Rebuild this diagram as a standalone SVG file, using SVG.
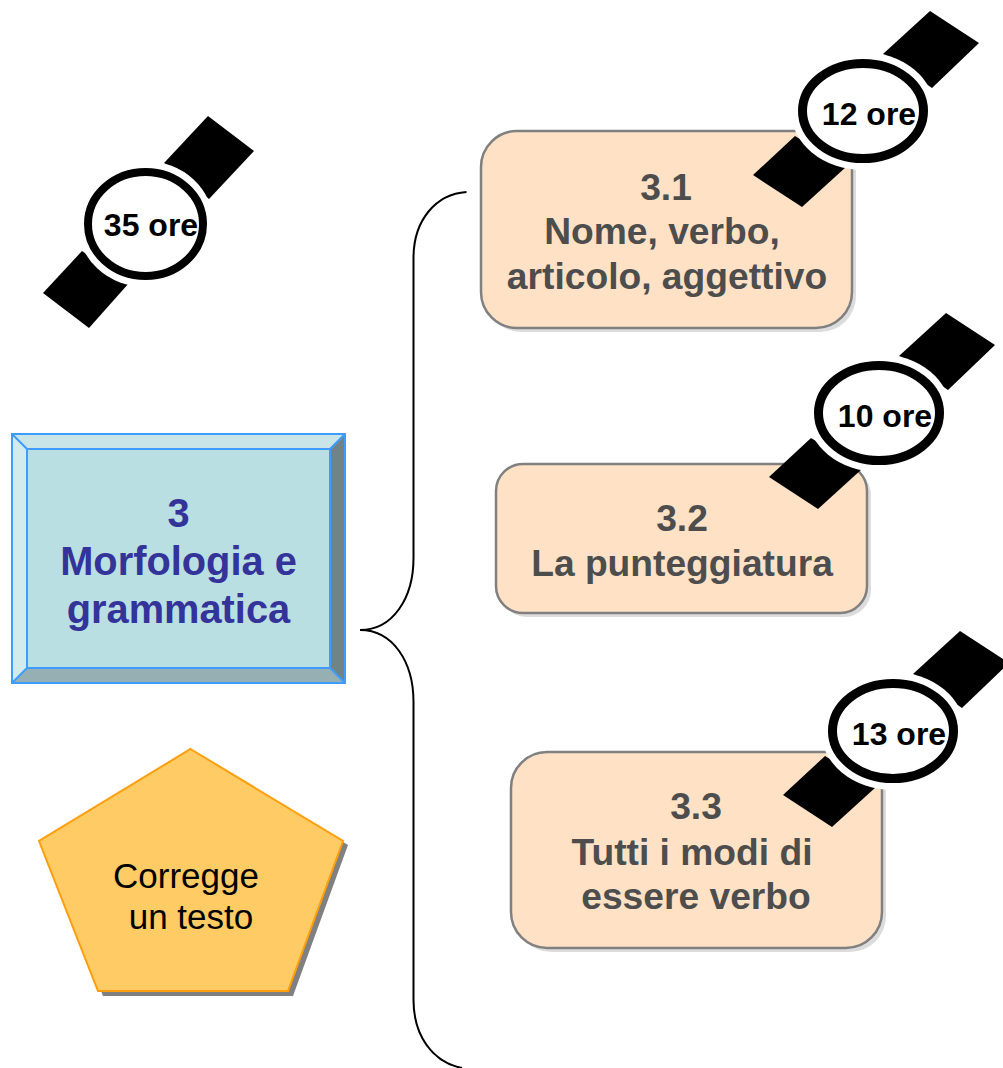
<svg xmlns="http://www.w3.org/2000/svg" width="1003" height="1068" viewBox="0 0 1003 1068">
<style>
text{font-family:"Liberation Sans",Arial,sans-serif;text-anchor:middle}
.t{font-size:37.200px;font-weight:bold;fill:#4d4d4d}
.m{font-size:39.800px;font-weight:bold;fill:#333399}
.c{font-size:35px;fill:#000}
.o{font-size:32px;font-weight:bold;fill:#000}
.box{fill:#ffe1c5;stroke:#808080;stroke-width:2.500}
.sh{fill:#dcdcdc}
.dial{fill:#fff;stroke:#000}
.halo{fill:#fff}
</style>
<defs>
<g id="watch">
<polygon points="930,11 979,43 932,88 883,54"/>
<polygon points="795,136 846,167 802,207 753,175"/>
<ellipse class="halo" cx="863" cy="111" rx="72" ry="59"/>
<ellipse class="dial" cx="863" cy="111" rx="60.500" ry="47.500" stroke-width="9"/>
</g>
</defs>
<g id="connectors" fill="none" stroke="#000" stroke-width="2">
<path d="M466.500,192 C436,194 413.500,220 413.500,258 V558 C413.500,598 393,630 360,630 C393,630 413.500,662 413.500,702 V1000 C413.500,1035 432,1062 462,1068"/>
</g>
<g id="node-watch-35">
<polygon points="208,116 254,151 209,199 164,163"/>
<polygon points="82,251 129,283 89,328 43,293"/>
<ellipse class="halo" cx="145.500" cy="224" rx="68" ry="63"/>
<ellipse class="dial" cx="145.500" cy="224" rx="57.500" ry="52" stroke-width="8"/>
<text class="o" x="151" y="236">35 ore</text>
</g>
<g id="node-3">
<rect x="12" y="434" width="333" height="249" fill="#b9dfe3"/>
<polygon points="12,434 345,434 330,449 27,449" fill="#c9e5e8"/>
<polygon points="12,434 27,449 27,668 12,683" fill="#d4ebee"/>
<polygon points="345,434 345,683 330,668 330,449" fill="#708488"/>
<polygon points="12,683 27,668 330,668 345,683" fill="#95afb3"/>
<g fill="none" stroke="#3f9cff" stroke-width="2">
<rect x="12" y="434" width="333" height="249"/>
<rect x="27" y="449" width="303" height="219"/>
<path d="M12,434 L27,449 M345,434 L330,449 M12,683 L27,668 M345,683 L330,668"/>
</g>
<text class="m" x="178.500" y="527">3</text>
<text class="m" x="178.500" y="575">Morfologia e</text>
<text class="m" x="178.500" y="623">grammatica</text>
</g>
<g id="node-pentagon">
<polygon points="195,753 348,845 293,996 103,996 43,845" fill="#808080"/>
<polygon points="190.500,749 343,841 288,991 98,991 39,841" fill="#ffcb64" stroke="#ff9e0d" stroke-width="2"/>
<text class="c" x="186" y="888">Corregge</text>
<text class="c" x="191" y="929">un testo</text>
</g>
<g id="node-3-1">
<rect class="sh" x="485" y="135" width="371" height="197" rx="36"/>
<rect class="box" x="481" y="131" width="371" height="197" rx="36"/>
<text class="t" x="666" y="200">3.1</text>
<text class="t" x="662" y="244">Nome, verbo,</text>
<text class="t" x="667" y="289">articolo, aggettivo</text>
</g>
<g id="node-3-2">
<rect class="sh" x="500" y="468" width="371" height="149" rx="27"/>
<rect class="box" x="496" y="464" width="371" height="149" rx="27"/>
<text class="t" x="682" y="531">3.2</text>
<text class="t" x="682" y="576">La punteggiatura</text>
</g>
<g id="node-3-3">
<rect class="sh" x="515" y="756" width="371" height="196" rx="36"/>
<rect class="box" x="511" y="752" width="371" height="196" rx="36"/>
<text class="t" x="696" y="819">3.3</text>
<text class="t" x="692" y="865">Tutti i modi di</text>
<text class="t" x="696" y="909">essere verbo</text>
</g>
<g id="node-watch-12">
<use href="#watch"/>
<text class="o" x="869" y="125">12 ore</text>
</g>
<g id="node-watch-10">
<use href="#watch" x="16" y="302"/>
<text class="o" x="885" y="427">10 ore</text>
</g>
<g id="node-watch-13">
<use href="#watch" x="30" y="620"/>
<text class="o" x="899" y="745">13 ore</text>
</g>
</svg>
